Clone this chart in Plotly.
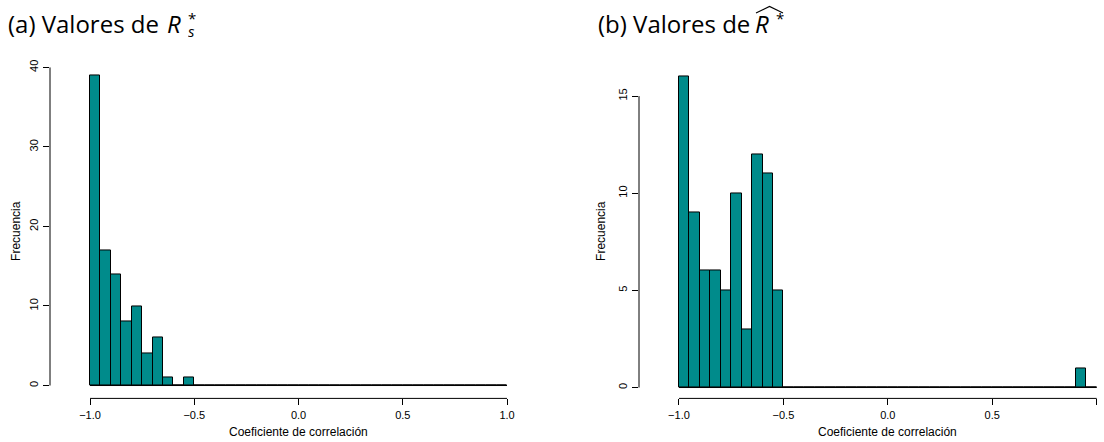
import plotly.graph_objects as go

# Histogram bins: 40 bins of width 0.05 spanning [-1, 1]
bin_width = 0.05
bin_left = [-1 + i * bin_width for i in range(40)]
bin_centers = [round(b + bin_width / 2, 4) for b in bin_left]

# Counts per bin, panel (a): R*_s
counts_a = [39, 17, 14, 8, 10, 4, 6, 1, 0, 1] + [0] * 30
# Counts per bin, panel (b): R-hat*
counts_b = [16, 9, 6, 6, 5, 10, 3, 12, 11, 5] + [0] * 28 + [1, 0]

x_ticks = [-1.0, -0.5, 0.0, 0.5, 1.0]
y_ticks_a = [0, 10, 20, 30, 40]
y_ticks_b = [0, 5, 10, 15]

FILL = "#008B8B"
W, H = 1104, 442


def px(x):
    return x / W


def py(y):
    return 1 - y / H


fig = go.Figure()

# zero-height bins show as a flat line along the baseline
for ax in ("", "2"):
    fig.add_trace(go.Scatter(x=[bin_left[0], bin_left[-1] + bin_width], y=[0, 0],
                             mode="lines", line=dict(color="black", width=1),
                             xaxis="x" + ax, yaxis="y" + ax, hoverinfo="skip",
                             showlegend=False))

fig.add_trace(go.Bar(x=bin_centers, y=counts_a, width=bin_width,
                     marker=dict(color=FILL, line=dict(color="black", width=1)),
                     xaxis="x", yaxis="y", showlegend=False))
fig.add_trace(go.Bar(x=bin_centers, y=counts_b, width=bin_width,
                     marker=dict(color=FILL, line=dict(color="black", width=1)),
                     xaxis="x2", yaxis="y2", showlegend=False))

tick_font = dict(family="Liberation Sans, Arial", size=11, color="black")
ydom = [py(398), py(60)]

common_x = dict(tickvals=x_ticks, tickformat=".1f", ticks="outside", ticklen=6,
                tickcolor="black", tickwidth=1, showline=False, showgrid=False,
                zeroline=False, tickfont=tick_font)
common_y = dict(ticks="outside", ticklen=6, tickcolor="black", tickwidth=1,
                showline=False, showgrid=False, zeroline=False, tickangle=-90,
                tickfont=tick_font, ticklabelstandoff=1)

fig.update_layout(
    width=W, height=H,
    margin=dict(l=0, r=0, t=0, b=0),
    paper_bgcolor="white", plot_bgcolor="white",
    bargap=0,
    xaxis=dict(domain=[px(50), px(523.7)], range=[-1.192, 1.08], anchor="y", **common_x),
    yaxis=dict(domain=ydom, range=[-1.62, 40.5], tickvals=y_ticks_a, anchor="x", **common_y),
    xaxis2=dict(domain=[px(639), 1.0], range=[-1.1914, 1.035], anchor="y2", **common_x),
    yaxis2=dict(domain=ydom, range=[-0.56, 16.68], tickvals=y_ticks_b, anchor="x2", **common_y),
)

# axis lines spanning only the tick range
shapes = []
for xa, ya, ymax in (("x", "y", max(y_ticks_a)), ("x2", "y2", max(y_ticks_b))):
    shapes.append(dict(type="line", xref=xa + " domain", yref=ya, x0=0, x1=0, y0=0, y1=ymax,
                       line=dict(color="black", width=1)))
    shapes.append(dict(type="line", xref=xa, yref=ya + " domain", x0=x_ticks[0], x1=x_ticks[-1],
                       y0=0, y1=0, line=dict(color="black", width=1)))

# wide hat over R* in panel (b) title
shapes.append(dict(type="path", xref="paper", yref="paper",
                   path=f"M {px(756)},{py(9)} L {px(769.5)},{py(2.5)} L {px(783)},{py(9)}",
                   line=dict(color="black", width=1.1)))
fig.update_layout(shapes=shapes)

TF = "Open Sans"
title_font = dict(family=TF, size=24, color="black")
small_font = dict(family=TF, size=15, color="black")
lab_font = dict(family="Liberation Sans, Arial", size=12, color="black")
annotations = [
    # panel titles
    dict(text="(a) Valores de", x=px(6), y=py(20), xanchor="left", yanchor="middle",
         font=title_font),
    dict(text="<i>R</i>", x=px(165), y=py(20), xanchor="left", yanchor="middle",
         font=title_font),
    dict(text="<i>s</i>", x=px(186), y=py(27), xanchor="left", yanchor="middle",
         font=small_font, height=12),
    dict(text="*", x=px(186), y=py(14), xanchor="left", yanchor="middle",
         font=small_font, height=12),
    dict(text="(b) Valores de", x=px(596), y=py(20), xanchor="left", yanchor="middle",
         font=title_font),
    dict(text="<i>R</i>", x=px(753), y=py(20), xanchor="left", yanchor="middle",
         font=title_font),
    dict(text="*", x=px(774), y=py(14), xanchor="left", yanchor="middle",
         font=small_font, height=12),
    # axis titles
    dict(text="Coeficiente de correlación", xref="x", x=0, y=py(432), yanchor="middle",
         font=lab_font),
    dict(text="Coeficiente de correlación", xref="x2", x=0, y=py(432), yanchor="middle",
         font=lab_font),
    dict(text="Frecuencia", x=px(16), y=py(229), textangle=-90, xanchor="center",
         yanchor="middle", font=lab_font),
    dict(text="Frecuencia", x=px(601), y=py(229), textangle=-90, xanchor="center",
         yanchor="middle", font=lab_font),
]
for a in annotations:
    a.setdefault("xref", "paper")
    a.setdefault("yref", "paper")
    a["showarrow"] = False
fig.update_layout(annotations=annotations)

fig.write_html("out.html")
